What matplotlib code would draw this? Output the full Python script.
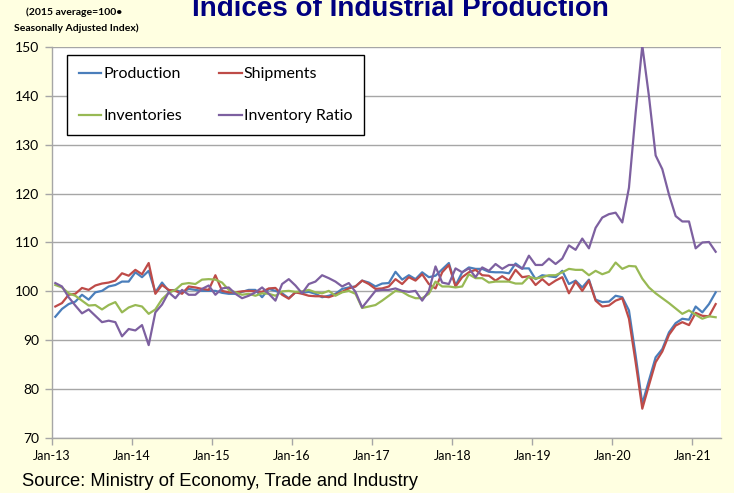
import matplotlib.pyplot as plt
import numpy as np

# Monthly indices, Jan-2013 .. Apr-2021 (2015 average = 100, seasonally adjusted)
production = [
    94.8, 96.4, 97.4, 97.9, 99.3, 98.3, 99.8, 100.1, 101.0, 101.3, 102.0, 102.0,
    103.9, 102.9, 104.2, 99.8, 101.8, 100.1, 100.3, 99.8, 100.5, 100.3, 100.1, 100.1,
    100.1, 99.7, 99.5, 99.5, 99.9, 100.3, 100.3, 98.8, 100.5, 100.1, 99.6, 98.6,
    99.8, 99.7, 99.9, 99.5, 98.8, 99.1, 99.5, 100.5, 100.8, 101.0, 102.2, 101.8,
    101.0, 101.6, 101.7, 104.0, 102.4, 103.3, 102.5, 103.9, 102.9, 103.2, 104.5, 105.8,
    101.2, 103.9, 104.9, 104.6, 104.6, 104.0, 103.9, 103.9, 103.7, 105.7, 104.7, 104.7,
    102.5, 103.3, 103.1, 102.9, 104.2, 101.5, 102.2, 100.8, 102.4, 98.3, 97.8, 97.9,
    99.1, 98.8, 96.1, 86.9, 77.0, 81.8, 86.5, 88.2, 91.6, 93.5, 94.4, 94.2,
    96.9, 95.7, 97.4, 99.8,
]
shipments = [
    96.9, 97.6, 99.3, 99.5, 100.7, 100.3, 101.2, 101.6, 101.8, 102.2, 103.7, 103.2,
    104.4, 103.5, 105.8, 99.5, 101.3, 100.3, 100.1, 99.5, 101.0, 100.8, 100.5, 100.3,
    103.3, 100.1, 99.8, 99.8, 100.0, 100.1, 100.0, 99.9, 100.6, 100.7, 99.3, 98.5,
    99.8, 99.5, 99.1, 99.0, 99.0, 98.8, 99.3, 99.9, 100.6, 101.0, 102.2, 101.5,
    100.5, 100.6, 101.0, 102.5, 101.5, 102.9, 102.2, 103.5, 101.5, 100.6, 103.9, 105.4,
    101.0, 102.9, 103.9, 104.4, 103.3, 103.2, 102.2, 103.1, 102.2, 104.4, 102.9, 103.1,
    101.3, 102.5, 101.3, 102.2, 102.9, 99.6, 102.0, 100.1, 102.2, 98.1, 96.9, 97.1,
    98.1, 98.6, 94.4, 85.5, 76.0, 80.8, 85.5, 87.7, 91.1, 93.0, 93.7, 93.1,
    95.6, 95.0, 94.9, 97.4,
]
inventories = [
    101.3, 100.8, 99.6, 99.1, 98.1, 97.1, 97.2, 96.3, 97.2, 97.8, 95.7, 96.7,
    97.2, 96.9, 95.4, 96.3, 98.4, 99.7, 100.3, 101.5, 101.7, 101.5, 102.4, 102.5,
    102.4, 101.8, 100.3, 99.8, 99.3, 99.5, 99.1, 99.6, 99.5, 99.1, 100.0, 100.1,
    99.9, 100.0, 100.3, 99.8, 99.6, 100.1, 99.1, 99.8, 100.1, 99.5, 96.6, 96.9,
    97.2, 98.1, 99.1, 100.1, 99.9, 99.1, 98.6, 98.6, 99.5, 102.0, 101.0, 101.0,
    100.8, 101.0, 103.5, 102.7, 102.7, 101.8, 102.0, 102.0, 102.0, 101.6, 101.6, 103.0,
    102.6, 102.9, 103.3, 103.3, 103.9, 104.6, 104.4, 104.4, 103.3, 104.2, 103.5, 104.0,
    105.9, 104.6, 105.2, 105.1, 102.6, 100.8, 99.6, 98.6, 97.6, 96.5, 95.4, 96.1,
    95.2, 94.4, 94.9, 94.7,
]
inventory_ratio = [
    101.7, 101.0, 98.8, 97.1, 95.5, 96.3, 95.0, 93.7, 94.0, 93.7, 90.8, 92.3,
    92.0, 93.1, 89.0, 95.7, 97.3, 99.8, 98.6, 100.3, 99.3, 99.3, 100.5, 101.2,
    99.3, 100.6, 100.8, 99.5, 98.6, 99.1, 99.8, 100.8, 99.5, 98.1, 101.5, 102.5,
    101.2, 99.6, 101.5, 102.0, 103.3, 102.7, 102.0, 101.0, 101.7, 99.9, 96.7, 98.4,
    100.1, 100.3, 100.3, 100.6, 100.1, 99.9, 100.1, 98.1, 100.1, 105.1, 101.8, 101.5,
    104.7, 103.9, 104.7, 102.9, 104.9, 104.2, 105.6, 104.6, 105.4, 105.4, 104.6, 107.3,
    105.4, 105.4, 106.7, 105.6, 106.7, 109.4, 108.5, 110.8, 108.8, 113.0, 115.1, 115.8,
    116.1, 114.1, 121.2, 136.5, 150.3, 139.9, 127.8, 125.0, 119.8, 115.4, 114.3, 114.3,
    108.8, 110.0, 110.1, 108.1,
]
year_labels = ["Jan-13", "Jan-14", "Jan-15", "Jan-16", "Jan-17",
               "Jan-18", "Jan-19", "Jan-20", "Jan-21"]

bg = "#FFFFE1"
grid_col = "#A6A6A6"

fig = plt.figure(figsize=(7.34, 4.93), dpi=100, facecolor=bg)
ax = fig.add_axes([0.0708, 0.1116, 0.9115, 0.7931])
ax.set_facecolor("white")

x = np.arange(len(production))
l_prod, = ax.plot(x, production, color="#4A7EBB", lw=1.6, label="Production")
l_ship, = ax.plot(x, shipments, color="#BE4B48", lw=1.6, label="Shipments")
l_inv, = ax.plot(x, inventories, color="#98B954", lw=1.6, label="Inventories")
l_ratio, = ax.plot(x, inventory_ratio, color="#7D60A0", lw=1.6, label="Inventory Ratio")

ax.set_xlim(-0.5, 99.8)
ax.set_ylim(70, 150)
ax.set_yticks(np.arange(70, 151, 10))
ax.set_xticks(np.arange(len(year_labels)) * 12 - 0.5)
ax.set_xticklabels(year_labels, fontsize=9, family="Lato")
for t in ax.get_yticklabels():
    t.set_family("Lato")
    t.set_fontsize(10)

ax.grid(axis="y", color=grid_col, lw=1.0)
ax.set_axisbelow(True)
for s in ["top", "right"]:
    ax.spines[s].set_visible(False)
for s in ["left", "bottom"]:
    ax.spines[s].set_color(grid_col)
    ax.spines[s].set_linewidth(1.0)
ax.tick_params(axis="both", colors=grid_col, length=5, width=1.0,
               labelcolor="black", pad=4)

# legend fills column by column, so order handles to get two rows
handles = [l_prod, l_inv, l_ship, l_ratio]
leg = ax.legend(handles, [h.get_label() for h in handles], ncol=2,
                loc="upper left",
                bbox_to_anchor=(67 / 734, 1 - 55 / 493),
                bbox_transform=fig.transFigure, borderaxespad=0,
                prop={"family": "Lato", "size": 11.5},
                handlelength=1.4, handletextpad=0.15, labelspacing=1.75,
                columnspacing=2.3, borderpad=0.75, fancybox=False)
leg.get_frame().set_edgecolor("black")
leg.get_frame().set_linewidth(1.0)
leg.get_frame().set_alpha(1)

fig.text(400 / 734, 1 - 16 / 493, "Indices of Industrial Production",
         ha="center", va="baseline", fontsize=20, fontweight="bold",
         color="#000080", family="Liberation Sans")
fig.text(74 / 734, 1 - 12 / 493, "(2015 average=100\u2022",
         ha="center", va="center", fontsize=7.5, fontweight="bold", family="Lato")
fig.text(76 / 734, 1 - 28 / 493, "Seasonally Adjusted Index)",
         ha="center", va="center", fontsize=7.5, fontweight="bold", family="Lato")
fig.text(22 / 734, 1 - 481 / 493, "Source: Ministry of Economy, Trade and Industry",
         ha="left", va="center", fontsize=13.2, family="Liberation Sans")

fig.savefig("out.png", dpi=100, facecolor=bg)
